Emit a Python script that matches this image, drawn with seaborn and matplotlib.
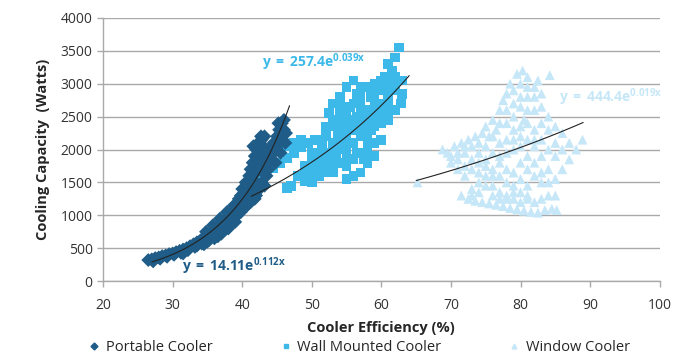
import numpy as np
import pandas as pd
import matplotlib
matplotlib.use('Agg')
import matplotlib.pyplot as plt
from matplotlib.lines import Line2D
import seaborn as sns

# readings taken off the reference chart
portable_x = [26.5, 27.0, 27.5, 28.0, 28.5, 29.0, 29.5, 30.0, 30.5, 31.0, 31.5, 32.0, 32.5, 33.0,
              33.5, 34.0, 34.5, 35.0, 35.5, 36.0, 36.3, 36.5, 37.0, 37.5, 38.0, 38.5, 39.0, 39.3,
              39.5, 40.0, 40.2, 40.5, 41.0, 41.2, 41.5, 42.0, 40.0, 40.5, 41.0, 41.2, 41.5, 41.8,
              42.0, 42.3, 42.8, 43.0, 43.3, 42.5, 43.0, 43.5, 44.0, 44.5, 45.0, 45.3, 45.7, 46.0,
              46.2, 45.5, 44.8, 43.5, 42.8, 42.0, 33.5, 35.0, 36.5, 38.0, 39.0, 37.5, 34.5, 31.5,
              27.2, 28.2, 29.2, 30.2, 31.2, 32.2, 33.2, 34.2, 35.2, 36.0, 37.0, 38.0, 38.7, 39.8,
              40.7, 41.8, 42.5, 43.2, 43.8, 44.2, 44.5, 45.0, 45.8, 46.3, 45.2, 46.0, 41.5, 42.0,
              42.3, 42.0, 41.6, 42.5, 42.7, 43.2, 40.8, 41.8, 39.8, 40.3, 39.5, 38.8, 37.8, 36.8,
              35.8, 34.8]
portable_y = [320, 330, 350, 360, 380, 390, 410, 420, 440, 460, 480, 500, 530, 560,
              590, 620, 660, 700, 740, 780, 690, 820, 870, 920, 980, 1040, 1100, 1000,
              1150, 1200, 1100, 1280, 1350, 1200, 1420, 1300, 1400, 1500, 1600, 1700, 1800, 1900,
              2000, 2100, 2150, 2050, 1980, 1700, 1800, 1900, 2000, 2100, 2200, 2300, 2400, 2300,
              2100, 1950, 1800, 1600, 1500, 1450, 540, 600, 680, 800, 900, 780, 560, 420,
              300, 340, 370, 400, 430, 470, 520, 570, 620, 650, 720, 850, 950, 1050,
              1150, 1250, 1400, 1450, 1700, 1850, 1950, 2050, 2150, 2250, 2400, 2450, 1550, 1650,
              1800, 1900, 2050, 2000, 2200, 2200, 1450, 1450, 1300, 1350, 1250, 1150, 1050, 950,
              850, 750]

wall_x = [41.5, 42.5, 43.5, 44.5, 45.5, 46.5, 47.5, 48.5, 46.4, 47.0, 48.0, 49.0, 49.5, 50.0,
          50.5, 51.0, 51.0, 51.5, 52.0, 52.0, 52.5, 53.0, 53.0, 53.5, 53.5, 54.0, 54.0, 54.0,
          54.5, 55.0, 55.0, 55.0, 55.5, 55.5, 56.0, 56.0, 56.5, 56.5, 57.0, 57.0, 57.5, 57.5,
          58.0, 58.0, 58.5, 58.5, 59.0, 59.0, 59.5, 60.0, 60.0, 60.5, 61.0, 61.0, 61.5, 62.0,
          62.0, 62.5, 63.0, 62.8, 59.0, 58.0, 57.0, 56.0, 55.0, 50.5, 49.5, 52.5, 53.0, 57.0,
          56.5, 54.5, 60.5, 61.5, 50.0, 49.0, 51.5, 53.8,
          50.0, 50.0, 51.0, 51.0, 52.0, 52.0, 52.0, 53.0, 53.0, 53.0, 54.0, 54.0, 54.0, 54.0,
          55.0, 55.0, 55.0, 55.0, 56.0, 56.0, 56.0, 56.0, 57.0, 57.0, 57.0, 57.0, 58.0, 58.0,
          58.0, 58.0, 59.0, 59.0, 59.0, 59.0, 60.0, 60.0, 60.0, 61.0, 61.0, 61.0, 62.0, 62.0,
          63.0, 44.0, 45.0, 46.0, 47.5, 48.5, 43.0]
wall_y = [1520, 1580, 1650, 1720, 1800, 1870, 1950, 2030, 1415, 1440, 1600, 1520, 1650, 1800,
          1700, 1600, 1900, 2050, 1750, 2200, 1950, 1650, 2100, 2350, 1850, 2000, 2500, 2800,
          2200, 1900, 2400, 2950, 2650, 2100, 2300, 3050, 2500, 1950, 2200, 2700, 2400, 1850,
          2600, 2100, 2800, 2300, 2500, 3000, 2700, 2900, 2400, 3100, 2800, 3300, 3000, 2900,
          3400, 3550, 3050, 2700, 1900, 1800, 1650, 1600, 1550, 2150, 2100, 2550, 2700, 2950,
          2850, 2650, 2600, 3200, 1500, 1750, 1800, 2250,
          1550, 1950, 1700, 2150, 1650, 1850, 2350, 1750, 1950, 2450, 1800, 2150, 2350, 2650,
          1750, 2050, 2250, 2550, 1850, 2100, 2450, 2700, 1950, 2350, 2550, 2850, 1950, 2250,
          2450, 2950, 2100, 2350, 2650, 2850, 2150, 2550, 3050, 2450, 2650, 2950, 2600, 3100,
          2850, 1900, 1980, 2050, 2100, 2150, 1800]

window_x = [65.2, 68.8, 69.5, 70.5, 71.5, 72.5, 73.5, 74.5, 75.5, 76.5, 70.0, 71.0, 72.0, 73.0,
            74.0, 71.5, 72.5, 73.5, 74.5, 75.5, 76.5, 77.5, 78.5, 79.5, 80.5, 81.5, 82.5, 83.5,
            84.5, 85.2, 73.0, 74.0, 75.0, 76.0, 77.0, 78.0, 79.0, 80.0, 81.0, 76.0, 77.0, 78.0,
            79.0, 80.0, 81.0, 82.0, 83.0, 84.0, 85.0, 86.0, 87.0, 88.0, 88.9, 76.0, 77.0, 78.0,
            79.0, 80.0, 81.0, 82.0, 83.0, 84.0, 85.0, 86.0, 82.0, 79.0, 77.0, 75.0, 77.5, 78.5,
            79.5, 80.3, 81.0, 82.0, 82.5, 83.0, 84.2, 79.0, 80.0, 81.0, 80.5, 78.0,
            70.0, 71.0, 71.0, 72.0, 72.0, 72.0, 73.0, 73.0, 73.0, 74.0, 74.0, 74.0, 74.0, 75.0,
            75.0, 75.0, 75.0, 76.0, 76.0, 76.0, 76.0, 77.0, 77.0, 77.0, 77.0, 78.0, 78.0, 78.0,
            78.0, 78.0, 79.0, 79.0, 79.0, 79.0, 79.0, 80.0, 80.0, 80.0, 80.0, 80.0, 80.0, 81.0,
            81.0, 81.0, 81.0, 81.0, 81.0, 82.0, 82.0, 82.0, 82.0, 82.0, 83.0, 83.0, 83.0, 83.0,
            83.0, 84.0, 84.0, 84.0, 84.0, 85.0, 85.0, 85.0, 86.0, 87.0]
window_y = [1500, 2000, 1950, 2050, 2100, 2150, 2200, 2250, 2200, 2300, 1800, 1700, 1750, 1850,
            1950, 1300, 1250, 1220, 1200, 1180, 1160, 1140, 1110, 1090, 1070, 1050, 1040, 1080,
            1100, 1080, 1400, 1500, 1600, 1450, 1350, 1300, 1250, 1200, 1300, 1700, 1600, 1500,
            1450, 1550, 1700, 1800, 1650, 1500, 1550, 1700, 1850, 2000, 2150, 2450, 2600, 2400,
            2300, 2200, 2150, 2300, 2400, 2500, 2350, 2250, 2050, 2000, 1900, 1850, 2750, 3000,
            3150, 3200, 3100, 2950, 3050, 2850, 3130, 2700, 2800, 2600, 2450, 2150,
            1900, 1950, 1850, 1950, 2050, 1600, 1700, 2050, 1300, 1650, 1800, 2100, 1350, 1450,
            1750, 2050, 2350, 1300, 1600, 1950, 2200, 1250, 1800, 2100, 2400, 1250, 1700, 1950,
            2600, 2850, 1350, 1650, 2150, 2500, 2900, 1350, 1800, 2050, 2350, 2650, 3000, 1250,
            1450, 1900, 2400, 2800, 2950, 1200, 1600, 2150, 2600, 2800, 1250, 1500, 1900, 2150,
            2650, 1300, 1700, 2000, 2300, 1300, 1900, 2100, 2000, 2100]

series = ['Portable Cooler', 'Wall Mounted Cooler', 'Window Cooler']
colors = ['#1f5c87', '#3cb9e9', '#c6e7f8']
markers = ['D', 's', '^']

# exponential trendlines: y = a * exp(b x) over the fitted range
trend_a = [14.11, 257.4, 444.4]
trend_b = [0.112, 0.039, 0.019]
trend_lo = [27.0, 41.3, 65.0]
trend_hi = [46.8, 64.0, 89.0]
trend_text = [r'$\mathbf{y\:=\:14.11e^{0.112x}}$', r'$\mathbf{y\:=\:257.4e^{0.039x}}$',
              r'$\mathbf{y\:=\:444.4e^{0.019x}}$']
text_pos = [(31.3, 230), (42.8, 3330), (85.5, 2800)]

df = pd.concat([
    pd.DataFrame({'eff': portable_x, 'cap': portable_y, 'type': series[0]}),
    pd.DataFrame({'eff': wall_x, 'cap': wall_y, 'type': series[1]}),
    pd.DataFrame({'eff': window_x, 'cap': window_y, 'type': series[2]}),
])

sns.set_style('white')
plt.rcParams['font.family'] = ['Open Sans', 'DejaVu Sans']
plt.rcParams['mathtext.fontset'] = 'custom'
plt.rcParams['mathtext.bf'] = 'Open Sans:bold'
plt.rcParams['mathtext.rm'] = 'Open Sans'

fig = plt.figure(figsize=(6.78, 3.59), dpi=100)
ax = fig.add_axes([0.152, 0.217, 0.821, 0.733])

# draw window first so darker series sit on top
for i in [2, 1, 0]:
    sub = df[df['type'] == series[i]]
    sns.scatterplot(data=sub, x='eff', y='cap', color=colors[i], marker=markers[i],
                    s=50, edgecolor='none', linewidth=0, ax=ax, legend=False, zorder=3)

for i in range(3):
    xs = np.linspace(trend_lo[i], trend_hi[i], 100)
    ax.plot(xs, trend_a[i] * np.exp(trend_b[i] * xs), color='#222222', lw=0.8, zorder=4)
    ax.text(text_pos[i][0], text_pos[i][1], trend_text[i], color=colors[i], fontsize=10,
            ha='left', va='center', zorder=5)

ax.set_xlim(20, 100)
ax.set_ylim(0, 4000)
ax.set_xticks(range(20, 101, 10))
ax.set_yticks(range(0, 4001, 500))
ax.yaxis.grid(True, color='#a9a9a9', lw=1)
ax.xaxis.grid(False)
ax.set_axisbelow(True)
for s in ['top', 'right']:
    ax.spines[s].set_visible(False)
for s in ['left', 'bottom']:
    ax.spines[s].set_color('#a9a9a9')
    ax.spines[s].set_linewidth(1)
ax.tick_params(axis='both', direction='out', length=4, width=1, color='#a9a9a9',
               labelsize=10, labelcolor='#333333', bottom=True, left=True)
ax.tick_params(axis='x', pad=8)
ax.set_xlabel('Cooler Efficiency (%)', fontsize=10.5, fontweight='bold', labelpad=6)
ax.set_ylabel('Cooling Capacity  (Watts)', fontsize=10.5, fontweight='bold', labelpad=8)

handles = [Line2D([], [], ls='none', marker=markers[i], color=colors[i], markersize=3.5)
           for i in range(3)]
fig.legend(handles, series, loc='center', bbox_to_anchor=(0.53, 0.032), ncol=3, frameon=False,
           fontsize=10.5, columnspacing=4.6, handletextpad=0.4, handlelength=0.8)

fig.savefig('out.png', dpi=100)
